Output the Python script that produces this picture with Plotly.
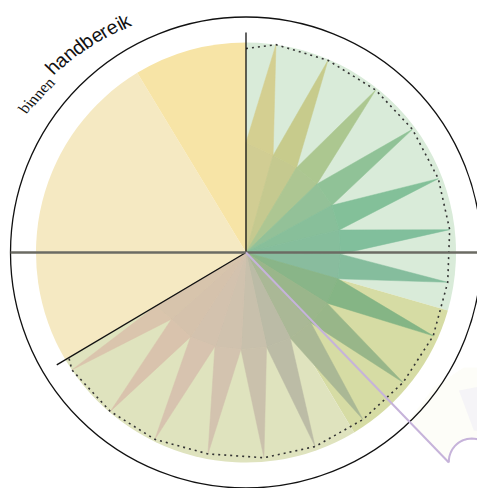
import math
import plotly.graph_objects as go

# page offset of the plot div (browser default body margin)
OFF = 8
W, H = 485 - OFF, 488 - OFF

# ---------------- data ----------------
# background group sectors (degrees, clockwise from north) and their radius
sector_start = [0, 106, 149, 239.3, 328.8]
sector_end = [106, 149, 239.3, 328.8, 360]
sector_r = [100, 100, 100, 100, 100]
sector_colors = ["#d9ebd9", "#d6dca4", "#dfe3be", "#f5e9c2", "#f7e4a6"]

# star spikes (tips) and valleys between them
tip_theta = [8.2, 23.1, 38.6, 53.5, 69.0, 83.6, 98.4, 114.0, 129.6, 145.0,
             160.4, 175.0, 190.7, 206.0, 220.5, 236.0]
tip_r = [100, 99.5, 99, 98.6, 98.1, 97.6, 97.1, 97.6, 97.1, 97.1,
         98.1, 98.1, 97.6, 99, 99.5, 100]
valley_theta = [0, 15.6, 30.8, 46, 61.2, 76.4, 91, 106, 122, 137.3,
                152.7, 167.7, 183, 198.3, 213.3, 228.2, 239.3]
valley_r = [52.4, 48, 47, 47, 46.7, 45.7, 45, 45.5, 45.5, 45.5,
            46, 46, 46.2, 47.1, 48.1, 47.6, 50]
spike_colors = ["#d6d190", "#c8cc8b", "#acc88f", "#8ec396", "#80c098", "#7ebf9b",
                "#82bd9d", "#82b583", "#96b687", "#a9b894", "#bdbca6", "#ccc2ad",
                "#d5c4b0", "#d9c4b0", "#dbc4ae", "#ddc6ae"]
hub_color = "#b2b8a4"

# dotted envelope line
env_theta = [0] + tip_theta + [239.3]
env_r = [97.1] + tip_r + [98.1]

# group divider lines
divider_theta = [0, 239.3]
divider_r = 104.8

# pointer line (tooltip)
pointer_theta = 136
pointer_len_px = 292

label_small = "binnen"
label_big = "handbereik"

# ---------------- geometry of polar area (target-pixel coordinates) ----------------
circ_left, circ_right, circ_top = 10, 482, 17
dom_x = [(circ_left - OFF) / W, (circ_right - OFF) / W]
dom_y = [0, 1 - (circ_top - OFF) / H]
diam = min((dom_x[1] - dom_x[0]) * W, (dom_y[1] - dom_y[0]) * H)
cx = (dom_x[0] + dom_x[1]) / 2 * W + OFF
cy = H - (dom_y[0] + dom_y[1]) / 2 * H + OFF
RMAX = 100 * (diam / 2) / 210.0


def px_to_paper(x, y):
    return (x - OFF) / W, 1 - (y - OFF) / H


def mix(c1, c2, t):
    a = [int(c1[i:i + 2], 16) for i in (1, 3, 5)]
    b = [int(c2[i:i + 2], 16) for i in (1, 3, 5)]
    return "#%02x%02x%02x" % tuple(round(a[i] * (1 - t) + b[i] * t) for i in range(3))


fig = go.Figure()

# sectors
for s, e, r, c in zip(sector_start, sector_end, sector_r, sector_colors):
    fig.add_trace(go.Barpolar(
        r=[r], theta=[(s + e) / 2], width=[e - s],
        marker=dict(color=c, line=dict(width=0)),
        hoverinfo="skip", showlegend=False))

# star: inner wedges (towards the grey hub) and outer spikes
for k in range(len(tip_theta)):
    inner = mix(spike_colors[k], hub_color, 0.15)
    fig.add_trace(go.Scatterpolar(
        r=[0, valley_r[k], valley_r[k + 1], 0],
        theta=[0, valley_theta[k], valley_theta[k + 1], 0],
        mode="lines", fill="toself", fillcolor=inner,
        line=dict(color=inner, width=0.8), hoverinfo="skip", showlegend=False))
for k in range(len(tip_theta)):
    col = mix(spike_colors[k], hub_color, 0.06)
    fig.add_trace(go.Scatterpolar(
        r=[valley_r[k], tip_r[k], valley_r[k + 1], valley_r[k]],
        theta=[valley_theta[k], tip_theta[k], valley_theta[k + 1], valley_theta[k]],
        mode="lines", fill="toself", fillcolor=col,
        line=dict(color=col, width=0.5), hoverinfo="skip", showlegend=False))

# dotted envelope
fig.add_trace(go.Scatterpolar(
    r=env_r, theta=env_theta, mode="lines",
    line=dict(color="#333333", width=1.6, dash="2px,4px"),
    hoverinfo="skip", showlegend=False))

# dividers
for t in divider_theta:
    fig.add_trace(go.Scatterpolar(
        r=[0, divider_r], theta=[t, t], mode="lines",
        line=dict(color="#111111", width=1.3),
        hoverinfo="skip", showlegend=False))

shapes = []
# pointer line end
ex = cx + pointer_len_px * math.sin(math.radians(pointer_theta))
ey = cy - pointer_len_px * math.cos(math.radians(pointer_theta))
acx, acy, ar = ex + 23, ey - 1, 23
arc_pts = []
for i in range(0, 21):
    a = math.radians(180 - i * 6.0)
    arc_pts.append((acx + ar * math.cos(a), acy - ar * math.sin(a)))

# faint bubble background (soft layers)
bg1 = [(ex - 40, ey - 42), (ex, ey)] + arc_pts + [(500, ey - 30), (500, ey - 95),
                                                  (ex + 15, ey - 95), (ex - 15, ey - 75)]
bg2 = [(ex + 10, ey - 72), (500, ey - 80), (500, ey - 30), (ex + 25, ey - 32)]
for pts, col in ((bg1, "rgba(250,247,232,0.3)"), (bg2, "rgba(228,226,244,0.3)")):
    path = "M " + " L ".join("%.4f,%.4f" % px_to_paper(x, y) for x, y in pts) + " Z"
    shapes.append(dict(type="path", xref="paper", yref="paper", path=path,
                       fillcolor=col, line=dict(width=0), layer="below"))

# horizontal axis line
x0, y0 = px_to_paper(cx - diam / 2, cy)
shapes.append(dict(type="line", xref="paper", yref="paper", x0=x0, y0=y0, x1=1, y1=y0,
                   line=dict(color="#6b6b63", width=2.6)))

shapes.append(dict(type="line", xref="paper", yref="paper",
                   x0=px_to_paper(cx, cy)[0], y0=px_to_paper(cx, cy)[1],
                   x1=px_to_paper(ex, ey)[0], y1=px_to_paper(ex, ey)[1],
                   line=dict(color="#c6b3da", width=2)))
arc_path = "M " + " L ".join("%.4f,%.4f" % px_to_paper(x, y) for x, y in [(ex, ey)] + arc_pts)
shapes.append(dict(type="path", xref="paper", yref="paper", path=arc_path,
                   line=dict(color="#c6b3da", width=2)))

# curved label: characters laid out along an arc
em_sans = {"h": .556, "a": .556, "n": .556, "d": .556, "b": .556, "e": .556,
           "r": .333, "i": .222, "k": .5}
em_serif = {"b": .5, "i": .278, "n": .5, "e": .444}
fs_small, fs_big = 16, 19.5
words = [
    (label_small, fs_small, "Liberation Serif", em_serif, 265.0, 260.0),
    (label_big, fs_big, "Liberation Sans", em_sans, 268.0, 261.0),
]
gap = 4.5
theta_first = -57.0
annotations = []
th = theta_first
prev_half = None
for wi, (word, fs, fam, em, r_a, r_b) in enumerate(words):
    n = len(word)
    for ci, ch in enumerate(word):
        w = em[ch] * fs
        r_c = r_a + (r_b - r_a) * ci / max(n - 1, 1)
        if prev_half is not None:
            adv = prev_half + w / 2 + (gap if ci == 0 else 0)
            th += math.degrees(adv / r_c)
        prev_half = w / 2
        x = cx + r_c * math.sin(math.radians(th))
        y = cy - r_c * math.cos(math.radians(th))
        px, py = px_to_paper(x, y)
        annotations.append(dict(text=ch, x=px, y=py, xref="paper", yref="paper",
                                xanchor="center", yanchor="middle", showarrow=False,
                                textangle=th, borderpad=0,
                                font=dict(family=fam, size=fs, color="#111111")))

fig.update_layout(
    width=W, height=H, margin=dict(l=0, r=0, t=0, b=0),
    paper_bgcolor="white", plot_bgcolor="white", showlegend=False,
    polar=dict(
        domain=dict(x=dom_x, y=dom_y),
        bgcolor="rgba(0,0,0,0)",
        bargap=0, barmode="overlay",
        radialaxis=dict(range=[0, RMAX], visible=False, showgrid=False),
        angularaxis=dict(rotation=90, direction="clockwise", showgrid=False,
                         showticklabels=False, ticks="", showline=True,
                         linecolor="#111111", linewidth=1.3),
    ),
    shapes=shapes, annotations=annotations,
)

fig.write_html("out.html")
